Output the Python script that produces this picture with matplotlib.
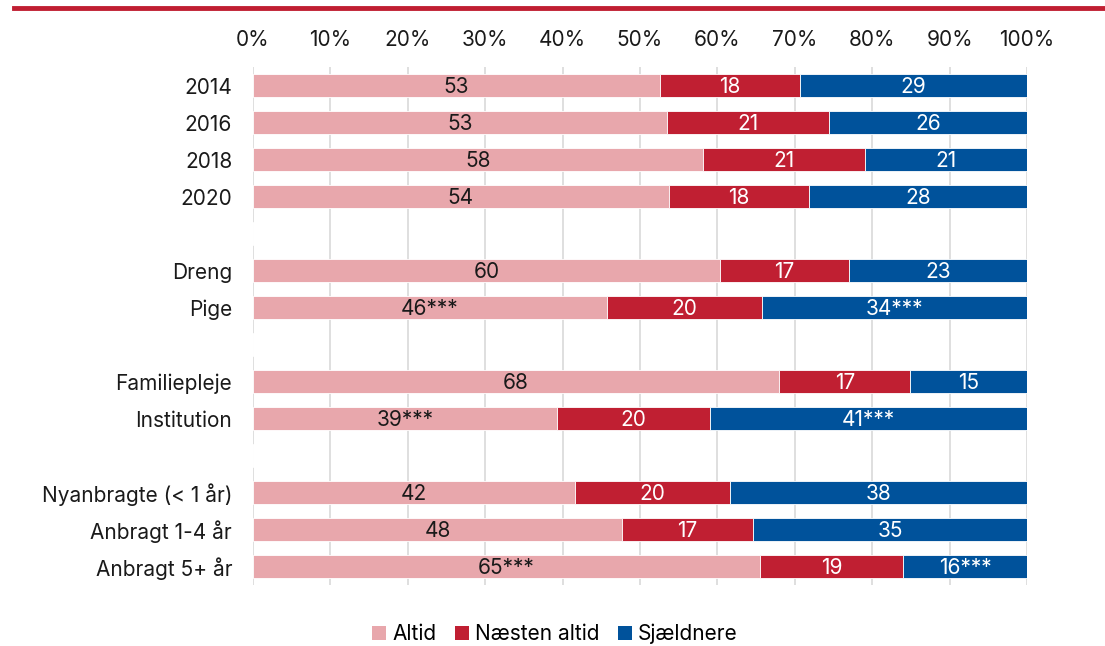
import numpy as np
import matplotlib.pyplot as plt
from matplotlib.lines import Line2D
from matplotlib.patches import Patch

plt.rcParams['font.family'] = ['Inter', 'DejaVu Sans']

# rows from top to bottom; '' = empty spacer row
categories = ['2014', '2016', '2018', '2020', '',
              'Dreng', 'Pige', '',
              'Familiepleje', 'Institution', '',
              'Nyanbragte (< 1 år)', 'Anbragt 1-4 år', 'Anbragt 5+ år']

altid = [52.6, 53.5, 58.1, 53.7, 0, 60.3, 45.7, 0, 68.0, 39.3, 0, 41.6, 47.7, 65.5]
naesten = [18.1, 20.9, 21.0, 18.1, 0, 16.7, 20.0, 0, 16.9, 19.8, 0, 20.0, 16.9, 18.5]
sjaeldnere = [29.3, 25.6, 20.9, 28.2, 0, 23.0, 34.3, 0, 15.1, 40.9, 0, 38.4, 35.4, 16.0]

altid_lbl = ['53', '53', '58', '54', '', '60', '46***', '', '68', '39***', '', '42', '48', '65***']
naesten_lbl = ['18', '21', '21', '18', '', '17', '20', '', '17', '20', '', '20', '17', '19']
sjaeldnere_lbl = ['29', '26', '21', '28', '', '23', '34***', '', '15', '41***', '', '38', '35', '16***']

series = [('Altid', altid, altid_lbl, '#e8a7ac', '#1a1a1a'),
          ('Næsten altid', naesten, naesten_lbl, '#c01f32', 'white'),
          ('Sjældnere', sjaeldnere, sjaeldnere_lbl, '#00529b', 'white')]

fig = plt.figure(figsize=(11.05, 6.46), dpi=100)
ax = fig.add_axes([253 / 1105, 1 - 585 / 646, 774 / 1105, 518 / 646])

y = np.arange(len(categories))
left = np.zeros(len(categories))
for name, vals, lbls, color, tcolor in series:
    vals = np.array(vals, dtype=float)
    ax.barh(y, vals, left=left, height=0.63, color=color, edgecolor='white',
            linewidth=0.6, zorder=3)
    for yi, v, l, lab in zip(y, vals, left, lbls):
        if lab:
            ax.text(l + v / 2, yi + 0.03, lab, ha='center', va='center',
                    fontsize=15, color=tcolor, zorder=4)
    left += vals

ax.set_xlim(0, 100)
ax.set_ylim(len(categories) - 0.5, -0.5)
ax.set_yticks(y)
ax.set_yticklabels(categories, fontsize=15, color='#1a1a1a')
ax.set_xticks(np.arange(0, 101, 10))
ax.set_xticklabels([f'{v}%' for v in range(0, 101, 10)], fontsize=15, color='#1a1a1a')
ax.xaxis.tick_top()
ax.tick_params(axis='x', length=0, pad=12)
ax.tick_params(axis='y', length=0, pad=15)
ax.grid(axis='x', color='#d9d9d9', linewidth=1.2, zorder=0)
for s in ax.spines.values():
    s.set_visible(False)

# top red rule
fig.add_artist(Line2D([14 / 1105, 1], [1 - 8 / 646] * 2, color='#c01f32', linewidth=3.5))

handles = [Patch(facecolor=c, label=n) for n, _, _, c, _ in series]
fig.legend(handles=handles, loc='center', bbox_to_anchor=(555 / 1105, 1 - 634 / 646),
           ncol=3, frameon=False, fontsize=15, handlelength=0.65, handleheight=0.65,
           handletextpad=0.3, columnspacing=0.9)

fig.savefig('out.png', dpi=100)
